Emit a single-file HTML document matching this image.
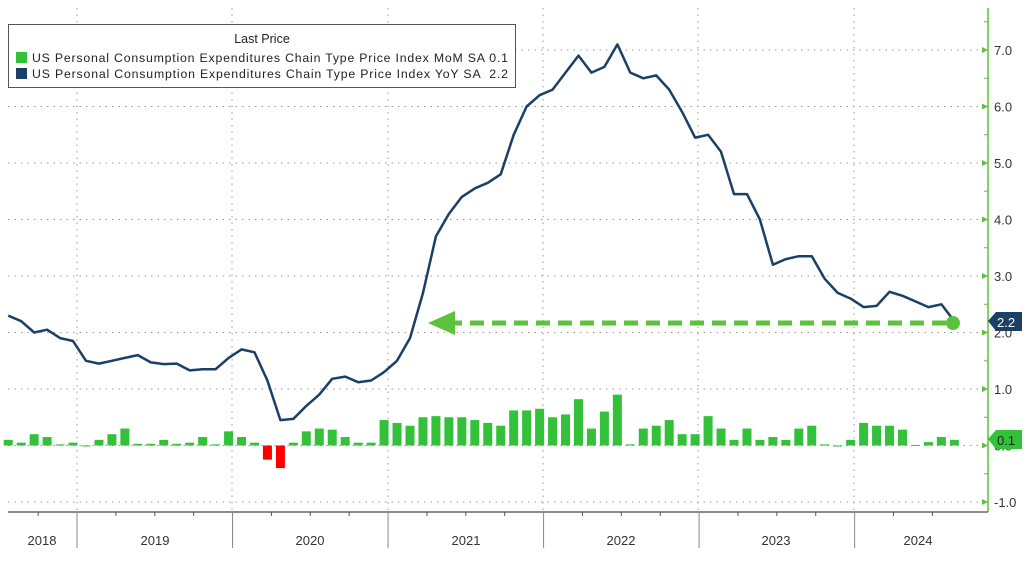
<!DOCTYPE html>
<html><head><meta charset="utf-8"><style>
body{margin:0;background:#fff;}
svg{display:block;font-family:"Liberation Sans",sans-serif;}
</style></head><body>
<svg id="c" width="1024" height="565" viewBox="0 0 1024 565"></svg>
<script>
const s=document.getElementById('c');let h='';
const Y=v=>445.5-v*56.5;
const X=i=>-76+(i+0.5)*12.96;
for(let v=-1;v<=7;v++){h+=`<line x1="8" x2="988" y1="${Y(v)}" y2="${Y(v)}" stroke="#999" stroke-dasharray="1.5,5"/>`;}
[77,232,388,543,698,854].forEach(x=>{h+=`<line x1="${x}" x2="${x}" y1="8" y2="512" stroke="#999" stroke-dasharray="1.5,5"/>`;});
const mom=[0.1,0.05,0.2,0.15,0.02,0.05, 0.0,0.1,0.2,0.3,0.03,0.03,0.1,0.03,0.05,0.15,0.02,0.25, 0.15,0.05,-0.25,-0.4,0.05,0.25,0.3,0.28,0.15,0.05,0.05,0.45, 0.4,0.35,0.5,0.52,0.5,0.5,0.45,0.4,0.35,0.62,0.62,0.65, 0.5,0.55,0.82,0.3,0.6,0.9,0.02,0.3,0.35,0.45,0.2,0.2, 0.52,0.3,0.1,0.3,0.1,0.15,0.1,0.3,0.35,0.02,0.0,0.1, 0.4,0.35,0.35,0.28,0.01,0.06,0.15,0.1];
mom.forEach((v,k)=>{const i=k+6,x=X(i);const y0=Y(0),y1=Y(v);const top=Math.min(y0,y1),ht=Math.max(1,Math.abs(y1-y0));h+=`<rect x="${x-4.5}" y="${top}" width="9" height="${ht}" fill="${v<0?'#f00':'#33c13a'}"/>`;});
const yy=[2.3,2.2,2.0,2.05,1.9,1.85, 1.5,1.45,1.5,1.55,1.6,1.47,1.44,1.45,1.33,1.35,1.35, 1.55,1.7,1.65,1.15,0.45,0.47,0.7,0.9,1.18,1.22,1.12,1.15,1.3,1.5, 1.9,2.7,3.7,4.1,4.4,4.55,4.65,4.8,5.5,6.0,6.2,6.3, 6.6,6.9,6.6,6.7,7.1,6.6,6.5,6.55,6.3,5.9,5.45,5.5, 5.2,4.45,4.45,4.0,3.2,3.3,3.35,3.35,2.95,2.7,2.6,2.45, 2.47,2.72,2.65,2.55,2.45,2.5,2.2];
h+=`<polyline fill="none" stroke="#1c3f66" stroke-width="2.5" stroke-linejoin="round" points="${yy.map((v,k)=>X(k+6).toFixed(1)+','+Y(v).toFixed(1)).join(' ')}"/>`;
h+=`<line x1="448" x2="950" y1="323" y2="323" stroke="#5bc23c" stroke-width="5" stroke-dasharray="14,8"/>`;
h+=`<polygon points="428,323 455,311 455,335" fill="#5bc23c"/><circle cx="953" cy="323" r="7" fill="#5bc23c"/>`;
h+=`<line x1="988" x2="988" y1="8" y2="512" stroke="#5bc23c" stroke-width="1.5"/>`;
h+=`<line x1="8" x2="988" y1="512" y2="512" stroke="#666" stroke-width="1.5"/>`;
for(let v=-1;v<=7.5;v+=0.5){const y=Y(v);if(Number.isInteger(v)){h+=`<polygon points="982,${y-3} 988,${y} 982,${y+3}" fill="#5bc23c"/><line x1="982" x2="988" y1="${y}" y2="${y}" stroke="#5bc23c"/><text x="994" y="${y+5}" font-size="13" fill="#333">${v.toFixed(1)}</text>`;}else h+=`<line x1="984" x2="988" y1="${y}" y2="${y}" stroke="#5bc23c"/>`;}
for(let i=6;i<=80;i++){const x=-78.5+i*12.96;if(i%12==0)h+=`<line x1="${x}" x2="${x}" y1="512" y2="548" stroke="#888"/>`;else if(i%3==0)h+=`<line x1="${x}" x2="${x}" y1="512" y2="516" stroke="#555"/>`;}
[[42,'2018'],[155,'2019'],[310,'2020'],[466,'2021'],[621,'2022'],[776,'2023'],[918,'2024']].forEach(([x,t])=>{h+=`<text x="${x}" y="545" font-size="13" fill="#333" text-anchor="middle">${t}</text>`;});
h+=`<polygon points="988,321 996,312 1022,312 1022,331 996,331" fill="#1c3f66"/><text x="997" y="327" font-size="13" fill="#fff">2.2</text>`;
h+=`<polygon points="988,439 996,430 1022,430 1022,449 996,449" fill="#33c13a"/><text x="997" y="445" font-size="13" fill="#222">0.1</text>`;
h+=`<rect x="8.5" y="24.5" width="507" height="63" fill="#fff" stroke="#555"/>`;
h+=`<text x="262" y="43" font-size="12.5" fill="#222" text-anchor="middle">Last Price</text>`;
h+=`<rect x="16" y="52" width="11" height="11" fill="#33c13a"/><text x="32" y="62" font-size="12.3" fill="#222" textLength="476">US Personal Consumption Expenditures Chain Type Price Index MoM SA 0.1</text>`;
h+=`<rect x="16" y="68" width="11" height="11" fill="#1c3f66"/><text x="32" y="78" font-size="12.3" fill="#222" textLength="476">US Personal Consumption Expenditures Chain Type Price Index YoY SA &#160;2.2</text>`;
s.innerHTML=h;
</script>
</body></html>
